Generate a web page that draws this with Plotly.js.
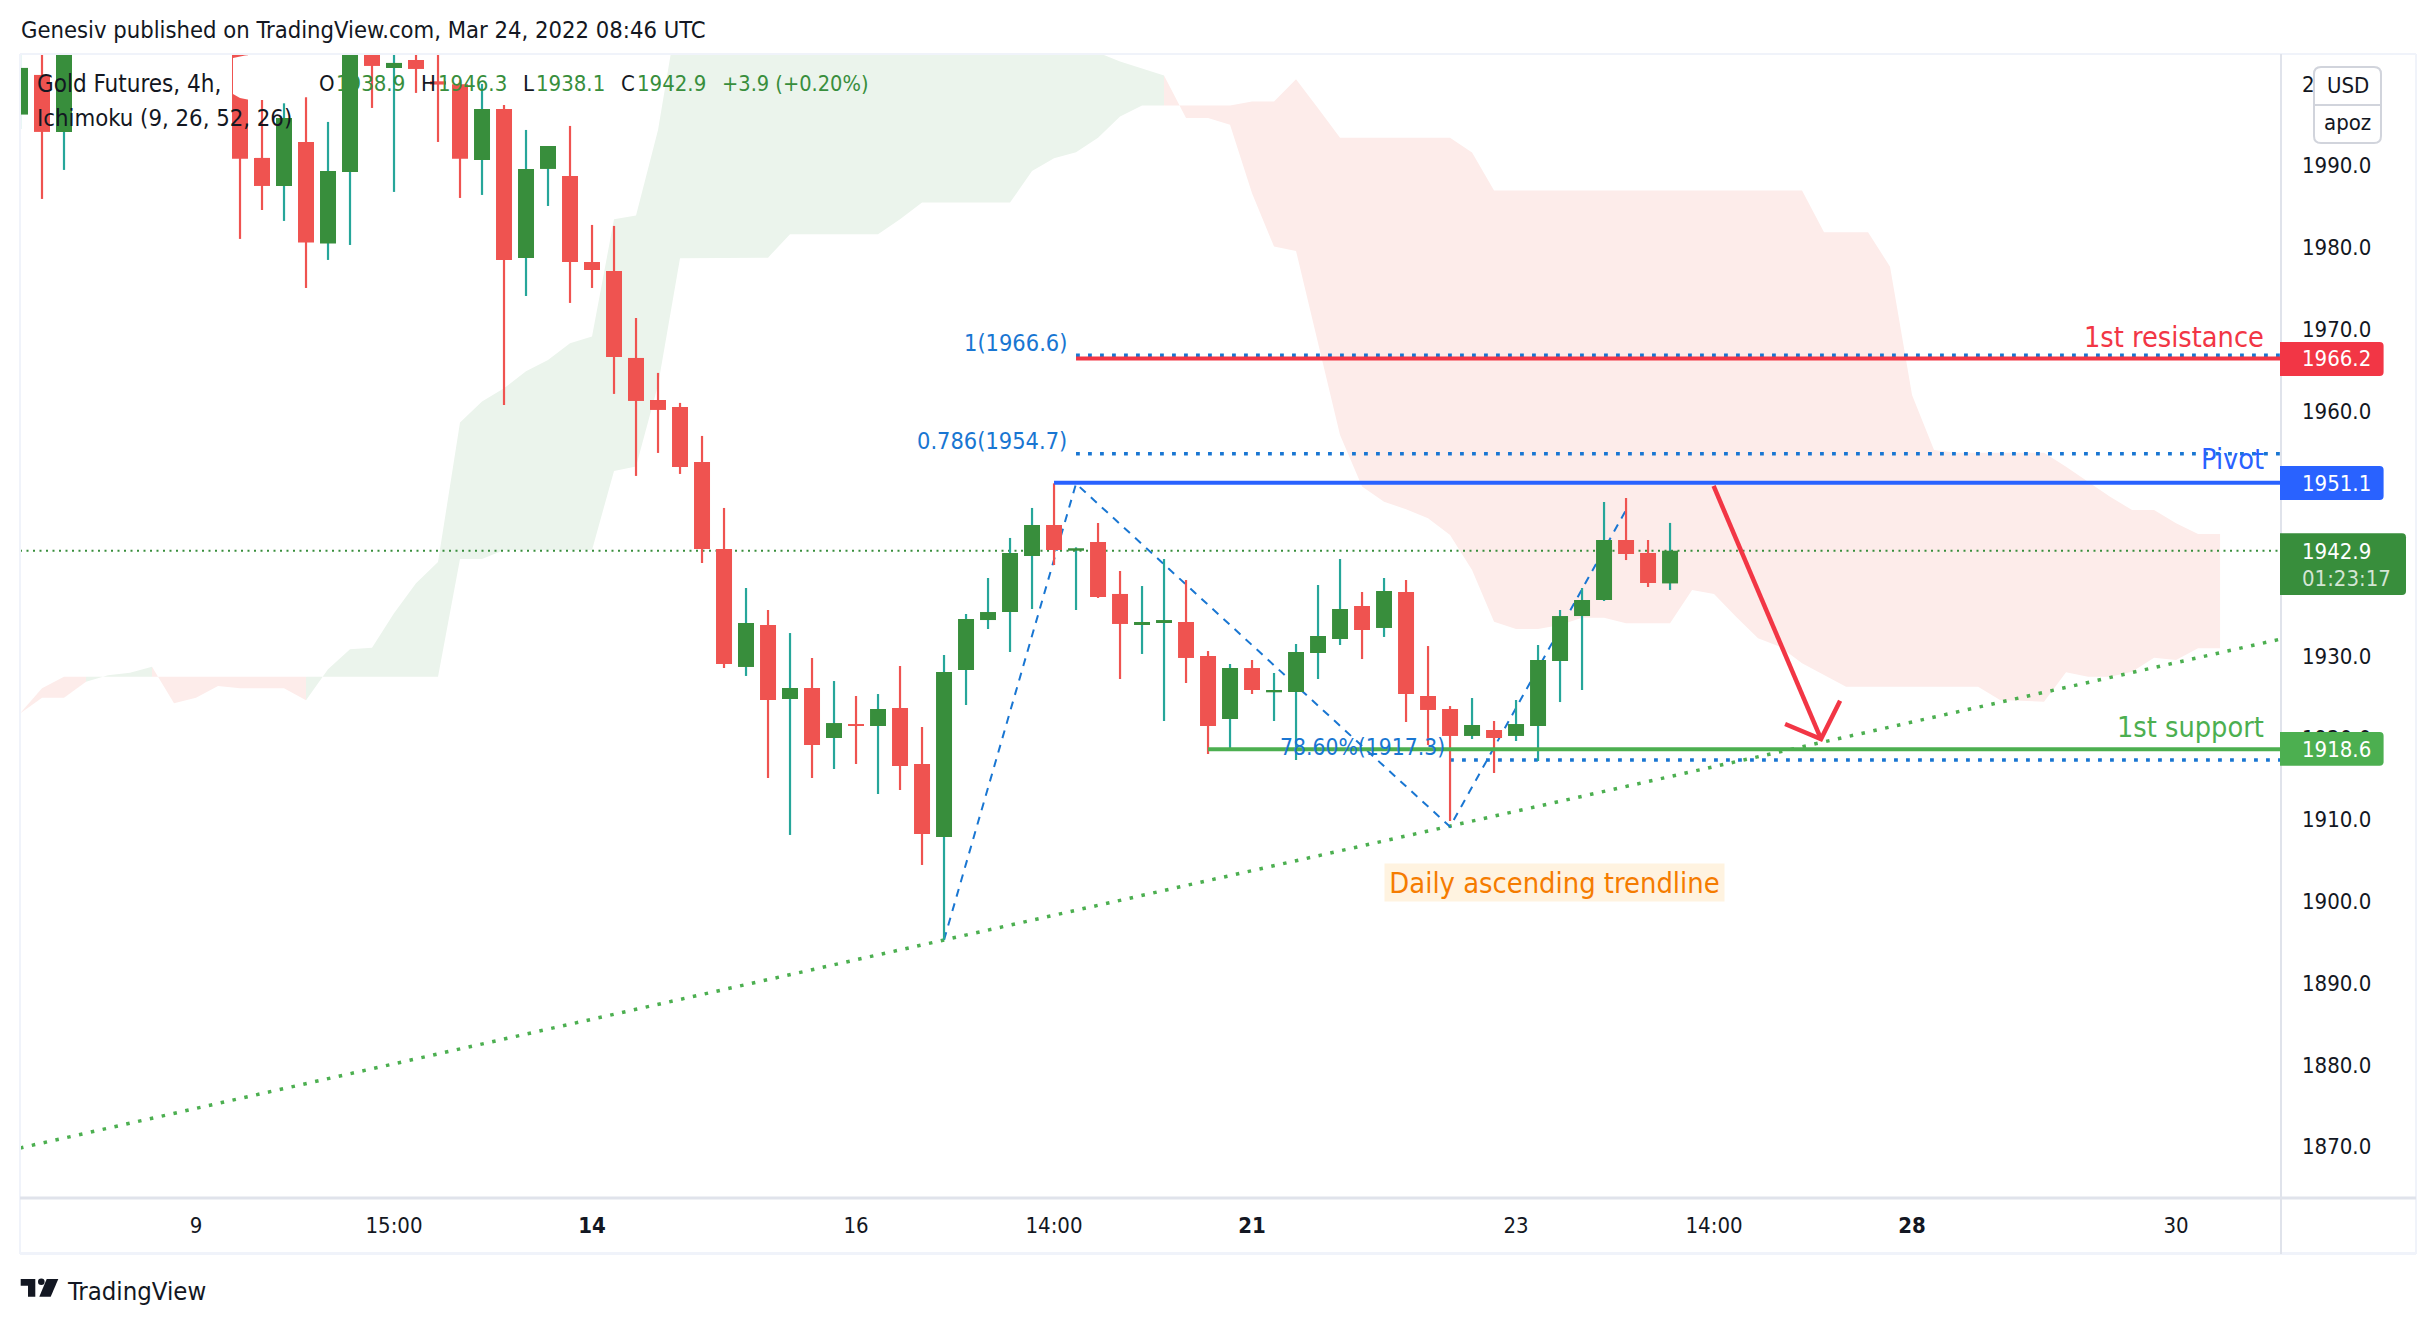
<!DOCTYPE html>
<html><head><meta charset="utf-8">
<script src="https://cdn.plot.ly/plotly-3.0.1.min.js"></script>
<style>html,body{margin:0;padding:0;background:#fff}</style>
</head><body><div id="chart" style="width:2436px;height:1324px"></div>
<script>
// ---- candle data (price) ----
var barIndex=[0,1,2,10,11,12,13,14,15,16,17,18,19,20,21,22,23,24,25,26,27,28,29,30,31,32,33,34,35,36,37,38,39,40,41,42,43,44,45,46,47,48,49,50,51,52,53,54,55,56,57,58,59,60,61,62,63,64,65,66,67,68,69,70,71,72,73,74,75];
var opens =[1996.25,2001.10,1994.13,2005.0,1990.95,1987.52,1992.90,1980.47,1989.23,2006.0,2001.95,2002.93,2000.32,1999.96,1990.70,1996.94,1978.71,1989.60,1988.74,1978.22,1977.12,1966.48,1961.34,1960.49,1953.76,1943.11,1928.68,1933.81,1924.76,1926.11,1919.99,1921.70,1921.46,1923.66,1916.81,1907.88,1928.31,1934.42,1935.40,1942.25,1946.05,1942.90,1943.97,1937.61,1933.81,1934.06,1934.18,1930.02,1922.31,1928.55,1925.58,1925.62,1930.39,1932.10,1936.14,1933.45,1937.85,1925.13,1923.54,1920.24,1920.97,1920.24,1921.46,1929.41,1934.91,1936.87,1944.21,1942.62,1938.9];
var highs =[2006.0,2006.0,2008.0,2007.0,2004.0,1997.63,1998.37,1995.35,2008.0,2008.0,2006.0,2005.0,2006.0,2000.5,2000.0,1997.43,1994.37,1992.41,1994.86,1982.75,1982.63,1971.37,1964.65,1960.98,1956.94,1948.13,1938.34,1935.65,1932.83,1929.78,1926.96,1925.13,1925.37,1928.80,1921.34,1930.14,1935.16,1939.56,1944.46,1948.13,1951.14,1943.31,1946.29,1940.42,1938.58,1941.89,1939.32,1930.63,1929.04,1929.53,1927.94,1931.49,1938.71,1941.89,1937.85,1939.56,1939.32,1931.24,1923.90,1924.88,1922.07,1924.64,1931.37,1935.65,1938.34,1948.86,1949.35,1944.21,1946.3];
var lows  =[1994.49,1985.93,1989.48,1981.04,1984.58,1983.24,1975.04,1978.47,1980.30,1997.06,1986.79,1998.90,1992.90,1986.05,1986.42,1960.73,1974.06,1985.07,1973.21,1975.04,1962.08,1952.05,1954.86,1952.29,1941.40,1928.55,1927.58,1915.10,1908.13,1915.10,1916.20,1916.81,1913.14,1913.63,1904.46,1895.28,1924.03,1933.32,1930.51,1935.77,1941.15,1935.65,1937.12,1927.21,1930.27,1922.07,1926.72,1918.03,1918.40,1925.37,1922.07,1917.30,1927.21,1931.37,1929.65,1932.35,1921.95,1919.13,1909.84,1919.87,1915.71,1919.62,1917.18,1924.39,1925.86,1936.75,1941.76,1938.46,1938.1];
var closes=[2001.96,1994.13,2005.0,1990.86,1987.52,1995.84,1980.59,1989.36,2005.0,2002.20,2002.57,2001.83,1999.92,1990.86,1996.94,1978.47,1989.60,1992.41,1978.22,1977.24,1966.60,1961.22,1960.12,1953.15,1943.11,1929.04,1934.06,1924.64,1926.11,1919.13,1921.82,1921.46,1923.54,1916.57,1908.25,1928.06,1934.55,1935.40,1942.62,1946.05,1942.99,1943.20,1937.24,1933.94,1934.18,1934.42,1929.78,1921.46,1928.55,1925.86,1925.86,1930.51,1932.47,1935.77,1933.20,1937.97,1925.37,1923.42,1920.24,1921.58,1919.99,1921.70,1929.53,1934.91,1936.87,1944.21,1942.50,1938.95,1942.9];

// ---- ichimoku cloud (bar index 0..100) ----
var spanA=[1923.0,1924.92,1924.92,1926.88,1927.66,1927.98,1928.72,1924.23,1924.92,1926.35,1926.07,1926.07,1926.07,1924.6,1928.39,1930.84,1931.04,1935.24,1938.91,1941.52,1958.57,1961.14,1962.77,1964.85,1966.23,1968.27,1969.09,1983.44,1983.89,1994.37,2010.44,2012,2013,2014,2014,2015,2015,2015,2014,2014,2013,2012,2012,2011,2010,2009,2008,2007,2005.5,2003.83,2002.73,2001.91,2001.02,1995.84,1995.84,1995.02,1986.62,1980.10,1979.57,1968.48,1957.06,1950.74,1948.90,1947.96,1946.86,1944.82,1940.54,1934.22,1933.32,1933.32,1933.81,1934.71,1934.71,1934.02,1934.02,1934.02,1938.09,1937.61,1934.83,1932.18,1931.16,1929.12,1927.70,1926.27,1926.27,1926.27,1926.27,1926.27,1926.27,1926.27,1924.64,1924.52,1924.44,1928.02,1927.49,1927.49,1928.10,1929.82,1929.53,1930.96,1930.96];
var spanB=[1923.0,1926.07,1927.49,1927.49,1927.49,1927.49,1927.49,1927.49,1927.49,1927.49,1927.49,1927.49,1927.49,1927.49,1927.49,1927.49,1927.49,1927.49,1927.49,1927.49,1941.89,1941.89,1943.0,1943.0,1943.0,1943.0,1943.0,1952.66,1953.19,1963.18,1978.67,1978.75,1978.75,1978.75,1978.75,1981.61,1981.61,1981.61,1981.61,1981.61,1983.44,1985.48,1985.48,1985.48,1985.48,1985.48,1989.36,1990.91,1991.64,1993.43,1996.0,1997.35,1997.35,1997.35,1997.35,1997.35,1997.84,1997.84,2000.57,1997.02,1993.43,1993.43,1993.43,1993.43,1993.43,1993.43,1991.60,1986.95,1986.95,1986.95,1986.95,1986.95,1986.95,1986.95,1986.95,1986.95,1986.95,1986.95,1986.95,1986.95,1986.95,1986.95,1981.85,1981.85,1981.85,1977.65,1961.96,1955.23,1954.89,1954.89,1954.89,1954.89,1954.89,1953.18,1951.35,1949.51,1947.88,1947.88,1946.25,1944.95,1944.95];
var cloudBreaks=[0,3,6,13,52,100];
var cloudColors=['#fdecea','#ebf4ec','#fdecea','#ebf4ec','#fdecea'];

// ---- drawing levels ----
var lastPrice=1942.9, resistance=1966.4, pivot=1951.2, support=1918.6;
var fibLevel1=1966.8, fibLevel786=1954.75, fibLevel786b=1917.3;
var trendX=[0,102.77], trendY=[1869.84,1932.1];
var fibPathX=[42,48,65,73], fibPathY=[1895.3,1951.1,1909.14,1947.88];
var arrowX=[76.98,81.86,null,80.23,81.86,82.73], arrowY=[1950.82,1919.87,null,1921.7,1919.87,1924.56];
var xMax=102.77, yMin=1863.6, yMax=2003.66;

// ---- tick labels ----
var xTickVals=[8,17,26,38,47,56,68,77,86,98];
var xTickText=['9','15:00','<b>14</b>','16','14:00','<b>21</b>','23','14:00','<b>28</b>','30'];
var yTickVals=[1870,1880,1890,1900,1910,1920,1930,1940,1950,1960,1970,1980,1990,2000];
var yTickText=yTickVals.map(function(v){return v.toFixed(1)});

var FONT='"DejaVu Sans Condensed","DejaVu Sans",sans-serif', FS=22, INK='#131722';
var GREEN='#388e3c', TEAL='#26a69a', RED='#ef5350', LG='#4caf50', TVRED='#f23645', BLUE='#2962ff', FIB='#1976d2';
var L=20,R=2281,T=54,B=1199;
function px(x){return (x-L)/(R-L)}
function py(y){return (B-y)/(B-T)}

var traces=[];
// cloud segments (below the candles)
for(var s=0;s<cloudBreaks.length-1;s++){
  var a=cloudBreaks[s],b=cloudBreaks[s+1],xs=[],ys=[];
  for(var i=a;i<=b;i++){xs.push(i);ys.push(spanA[i]);}
  for(i=b;i>=a;i--){xs.push(i);ys.push(spanB[i]);}
  traces.push({type:'scatter',mode:'lines',x:xs,y:ys,fill:'toself',fillcolor:cloudColors[s],line:{width:0,color:cloudColors[s]},xaxis:'x',yaxis:'y'});
}
function line(x,y,color,width,dash,ax){return {type:'scatter',mode:'lines',x:x,y:y,line:{color:color,width:width,dash:dash||'solid'},xaxis:'x',yaxis:ax||'y',connectgaps:false};}
// under-candle lines
traces.push(line([0,xMax],[lastPrice,lastPrice],GREEN,2,'2px,4.5px'));
traces.push(line(trendX,trendY,LG,3.5,'3.5px,8.6px'));
traces.push(line(fibPathX,fibPathY,FIB,2,'8px,7px'));
traces.push(line([48,xMax],[fibLevel1,fibLevel1],FIB,3.5,'3.8px,8.2px'));
traces.push(line([48,xMax],[fibLevel786,fibLevel786],FIB,3.5,'3.8px,8.2px'));
traces.push(line([65,xMax],[fibLevel786b,fibLevel786b],FIB,3.5,'3.8px,8.2px'));

// candles as bars from the arrays, on an overlaid axis so they sit above the cloud
function pick(up,wick){
  var x=[],base=[],h=[];
  barIndex.forEach(function(ix,k){
    var isUp=closes[k]>=opens[k];
    if(isUp!==up)return;
    x.push(ix);
    if(wick){base.push(lows[k]);h.push(highs[k]-lows[k]);}
    else{var lo=Math.min(opens[k],closes[k]);base.push(lo);h.push(Math.abs(closes[k]-opens[k]));}
  });
  return {x:x,base:base,y:h};
}
[[true,true,TEAL],[false,true,RED],[true,false,GREEN],[false,false,RED]].forEach(function(c){
  var d=pick(c[0],c[1]);
  traces.push({type:'bar',x:d.x,y:d.y,base:d.base,width:c[1]?0.1:0.727,marker:{color:c[2],line:{width:0}},xaxis:'x',yaxis:'y2'});
});
// over-candle lines
traces.push(line([48,xMax],[resistance,resistance],TVRED,4,null,'y2'));
traces.push(line([47,xMax],[pivot,pivot],BLUE,4,null,'y2'));
traces.push(line([54,xMax],[support,support],LG,4,null,'y2'));
traces.push(line(arrowX,arrowY,TVRED,4.5,null,'y2'));

function ann(text,x,y,color,anchor,size,extra){
  var o={text:text,xref:'paper',yref:'paper',x:px(x),y:py(y),xanchor:anchor||'left',yanchor:'middle',showarrow:false,
    font:{family:FONT,size:size||FS,color:color||INK},borderpad:0,align:'left'};
  if(extra)for(var k in extra)o[k]=extra[k];
  return o;
}
var annotations=[
 ann('Genesiv published on TradingView.com, Mar 24, 2022 08:46 UTC',20,30.5,INK,'left',23.6),
 ann('Gold Futures, 4h,',36,84,INK,'left',24),
 ann('Ichimoku (9, 26, 52, 26)',36,118,INK,'left',23.7),
 ann('O',318,84), ann('1938.9',335,84,GREEN),
 ann('H',420,84), ann('1946.3',437,84,GREEN),
 ann('L',522,84), ann('1938.1',535,84,GREEN),
 ann('C',620,84), ann('1942.9',636,84,GREEN),
 ann('+3.9 (+0.20%)',721,84,GREEN,'left',21.6),
 ann('1st resistance',2265,337,TVRED,'right',28.6),
 ann('Pivot',2265,459,BLUE,'right',28.6),
 ann('1st support',2265,727,LG,'right',28.6),
 ann('Daily ascending trendline',1554.5,882,'#f57c00','center',28.8,{bgcolor:'#fff3e0',width:339,height:37,align:'center'}),
 ann('1(1966.6)',1068,343,FIB,'right',23.4),
 ann('0.786(1954.7)',1068,441,FIB,'right',23.4),
 ann('78.60%(1917.3)',1279,747,FIB,'left',22.7),
 ann('USD',2347.7,85,INK,'center'),
 ann('apoz',2347.7,122,INK,'center'),
 ann('1966.2',2301,359,'#fff'),
 ann('1951.1',2301,483,'#fff'),
 ann('1942.9',2301,551,'#fff'),
 ann('01:23:17',2301,578,'rgba(255,255,255,0.78)'),
 ann('1918.6',2301,749,'#fff'),
 ann('TradingView',66,1290.5,INK,'left',25.5)
];
function rr(x0,y0,x1,y1,rl,w,fill,stroke,sw){
  var X=px,Y=py;
  var p='M'+X(x0+rl)+','+Y(y0)+' L'+X(x1-w)+','+Y(y0)+' Q'+X(x1)+','+Y(y0)+' '+X(x1)+','+Y(y0+w)+' L'+X(x1)+','+Y(y1-w)+' Q'+X(x1)+','+Y(y1)+' '+X(x1-w)+','+Y(y1)+' L'+X(x0+rl)+','+Y(y1)+' Q'+X(x0)+','+Y(y1)+' '+X(x0)+','+Y(y1-rl)+' L'+X(x0)+','+Y(y0+rl)+' Q'+X(x0)+','+Y(y0)+' '+X(x0+rl)+','+Y(y0)+' Z';
  return {type:'path',xref:'paper',yref:'paper',path:p,fillcolor:fill,line:{width:sw||0,color:stroke||fill},layer:'above'};
}
function seg(x0,y0,x1,y1,c,w){return {type:'line',xref:'paper',yref:'paper',x0:px(x0),y0:py(y0),x1:px(x1),y1:py(y1),line:{color:c,width:w},layer:'above'};}
function poly(pts,fill){
  var d=pts.map(function(q,i){return (i?'L':'M')+px(q[0])+','+py(q[1])}).join(' ')+' Z';
  return {type:'path',xref:'paper',yref:'paper',path:d,fillcolor:fill,line:{width:0},layer:'above'};
}
var shapes=[
 // white legend blob
 poly([[233,58],[245,55.5],[262,54],[313,54],[313,88],[309,95],[300,100],[250,100],[240,98],[233,94]],'#ffffff'),
 // frame
 seg(20,54,2416,54,'#f0f3fa',2), seg(20,54,20,1254,'#f0f3fa',2), seg(2416,54,2416,1254,'#f0f3fa',2), seg(20,1253.5,2416,1253.5,'#f0f3fa',3),
 seg(20,1198,2416,1198,'#e0e3eb',3), seg(2281,54,2281,1254,'#e0e3eb',2),
 // price boxes
 rr(2280,342,2383.6,376,0,4,TVRED),
 rr(2280,466,2383.6,500,0,4,BLUE),
 rr(2280,533.3,2406,595,0,4,GREEN),
 rr(2280,732,2383.6,765.7,0,4,LG),
 // currency box
 rr(2314,67,2381,143,7,7,'#ffffff','#d1d4dc',2),
 seg(2314,105,2381,105,'#d1d4dc',2),
 // TradingView logo
 poly([[20.7,1279],[35.3,1279],[35.3,1296.7],[28,1296.7],[28,1285.7],[20.7,1285.7]],INK),
 poly([[46.7,1279],[58.3,1279],[50.7,1296.7],[39.3,1296.7]],INK),
 {type:'circle',xref:'paper',yref:'paper',x0:px(38),x1:px(44.6),y0:py(1278.4),y1:py(1285),fillcolor:INK,line:{width:0},layer:'above'}
];
var layout={
 width:2436,height:1324,paper_bgcolor:'#fff',plot_bgcolor:'#fff',showlegend:false,barmode:'overlay',
 margin:{l:L,r:2436-R,t:T,b:1324-B,pad:0},
 xaxis:{range:[0,xMax],tickmode:'array',tickvals:xTickVals,ticktext:xTickText,showgrid:false,zeroline:false,showline:false,ticks:'',tickangle:0,ticklabelstandoff:11,tickfont:{family:FONT,size:FS,color:INK}},
 yaxis:{range:[yMin,yMax],side:'right',tickmode:'array',tickvals:yTickVals,ticktext:yTickText,showgrid:false,zeroline:false,showline:false,ticks:'',ticklabelstandoff:20,tickfont:{family:FONT,size:FS,color:INK}},
 yaxis2:{range:[yMin,yMax],overlaying:'y',side:'right',visible:false},
 annotations:annotations,shapes:shapes
};
Plotly.newPlot('chart',traces,layout,{staticPlot:true,displayModeBar:false});
</script></body></html>
